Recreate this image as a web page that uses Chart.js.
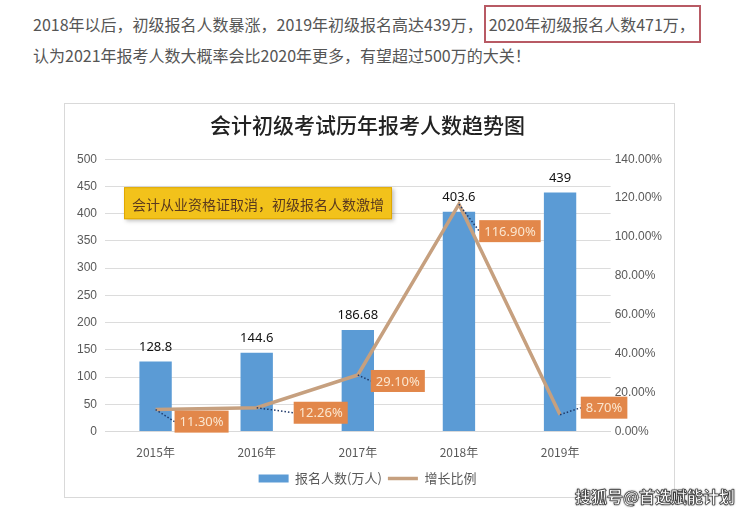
<!DOCTYPE html>
<html>
<head>
<meta charset="utf-8">
<script src="https://cdn.jsdelivr.net/npm/chart.js@4"></script>
<style>
  body { margin: 0; background: #fff; width: 740px; height: 516px; overflow: hidden; position: relative;
         font-family: "Noto Sans CJK SC", "Noto Sans", sans-serif; }
  .intro { position: absolute; left: 33px; color: #555; font-size: 16px; white-space: nowrap; }
  .l1 { top: 12px; }
  .l2 { top: 43px; }
  .boxed { border: 2px solid #b85a64; padding: 5px 4px 5px 3px; margin-left: 1px; }
  #frame { position: absolute; left: 64px; top: 103px; width: 611px; height: 395px;
           border: 1px solid #d9d9d9; box-sizing: border-box; }
  #wrap { position: absolute; left: 64px; top: 104px; width: 612px; height: 393px; }
  .mark { position: absolute; left: 575px; top: 484px; font-size: 16px; font-weight: 700; color: #fff;
          -webkit-text-stroke: 0.6px #333; text-shadow: 0 0 2px #333, 0 0 1px #000; }
</style>
</head>
<body>
<div class="intro l1">2018年以后，初级报名人数暴涨，2019年初级报名高达439万，<span class="boxed">2020年初级报名人数471万，</span></div>
<div class="intro l2">认为2021年报考人数大概率会比2020年更多，有望超过500万的大关！</div>
<div id="frame"></div>
<div id="wrap"><canvas id="trendChart"></canvas></div>
<div class="mark">搜狐号@首选赋能计划</div>
<script>
'use strict';

const years = ['2015年', '2016年', '2017年', '2018年', '2019年'];
const applicants = [128.8, 144.6, 186.68, 403.6, 439];
const growthRate = [11.30, 12.26, 29.10, 116.90, 8.70];
const growthLabels = ['11.30%', '12.26%', '29.10%', '116.90%', '8.70%'];
const noteText = '会计从业资格证取消，初级报名人数激增';

const BAR_BLUE = '#5b9bd5';
const LINE_TAN = '#c6a07f';
const TAG_ORANGE = '#e2874a';

// where the orange % tags sit relative to their point (dx, dy of tag centre)
const tagShift = [[46, 12], [64, 5], [40, 6], [51, 27], [44, -7]];

const labelPlugin = {
  id: 'labelPlugin',
  afterDatasetsDraw(chart) {
    const ctx = chart.ctx;
    const area = chart.chartArea;

    // yellow note box
    ctx.save();
    const nx = area.left + 19, ny = area.top + 28, nw = 268, nh = 32;
    ctx.shadowColor = 'rgba(0,0,0,0.25)';
    ctx.shadowBlur = 4;
    ctx.shadowOffsetX = 2;
    ctx.shadowOffsetY = 2;
    ctx.fillStyle = '#f2c21b';
    ctx.fillRect(nx, ny, nw, nh);
    ctx.shadowColor = 'transparent';
    ctx.strokeStyle = '#e0a800';
    ctx.lineWidth = 1;
    ctx.strokeRect(nx + 0.5, ny + 0.5, nw - 1, nh - 1);
    ctx.fillStyle = '#5a3a1e';
    ctx.font = '14px "Noto Sans CJK SC"';
    ctx.textAlign = 'center';
    ctx.textBaseline = 'middle';
    ctx.fillText(noteText, nx + nw / 2, ny + nh / 2 + 1);
    ctx.restore();

    // bar values
    const barMeta = chart.getDatasetMeta(0);
    ctx.save();
    ctx.fillStyle = '#111';
    ctx.font = '13px "Noto Sans", sans-serif';
    ctx.textAlign = 'center';
    ctx.textBaseline = 'bottom';
    barMeta.data.forEach((bar, i) => {
      ctx.fillText(String(applicants[i]), bar.x, bar.y - 8);
    });
    ctx.restore();

    // growth tags
    const lineMeta = chart.getDatasetMeta(1);
    ctx.save();
    ctx.font = '13px "Noto Sans", sans-serif';
    ctx.textBaseline = 'middle';
    ctx.textAlign = 'center';
    lineMeta.data.forEach((pt, i) => {
      const txt = growthLabels[i];
      const w = ctx.measureText(txt).width + 10;
      const h = 22;
      const cx = pt.x + tagShift[i][0];
      const cy = pt.y + tagShift[i][1];
      // dotted leader
      ctx.strokeStyle = '#1f3a6b';
      ctx.lineWidth = 1.5;
      ctx.setLineDash([1.5, 2]);
      ctx.beginPath();
      ctx.moveTo(pt.x, pt.y);
      ctx.lineTo(cx - w / 2, cy);
      ctx.stroke();
      ctx.setLineDash([]);
      ctx.fillStyle = TAG_ORANGE;
      ctx.fillRect(cx - w / 2, cy - h / 2, w, h);
      ctx.fillStyle = '#fbe6cf';
      ctx.fillText(txt, cx, cy + 1);
    });
    ctx.restore();
  }
};

const ctx = document.getElementById('trendChart');
const chart = new Chart(ctx, {
  data: {
    labels: years,
    datasets: [{
      type: 'bar',
      label: '报名人数(万人)',
      data: applicants,
      backgroundColor: BAR_BLUE,
      borderWidth: 0,
      yAxisID: 'y',
      pointStyle: 'rect',
      barPercentage: 0.64,
      categoryPercentage: 0.5,
      order: 2,
    }, {
      type: 'line',
      label: '增长比例',
      data: growthRate,
      borderColor: LINE_TAN,
      backgroundColor: LINE_TAN,
      borderWidth: 3.5,
      pointRadius: 0,
      pointStyle: 'line',
      tension: 0,
      yAxisID: 'y1',
      order: 1,
    }],
  },
  options: {
    responsive: true,
    maintainAspectRatio: false,
    animation: false,
    layout: { padding: { top: 0, bottom: 2, left: 5, right: 10 } },
    plugins: {
      title: {
        display: true,
        text: '会计初级考试历年报考人数趋势图',
        color: '#222',
        font: { family: '"Noto Sans CJK SC"', size: 21, weight: '500' },
        padding: { top: 8, bottom: 22 },
      },
      legend: {
        position: 'bottom',
        labels: {
          usePointStyle: true,
          pointStyleWidth: 30,
          boxHeight: 8,
          color: '#595959',
          font: { family: '"Noto Sans CJK SC"', size: 13 },
          padding: 6,
          sort: (a, b) => a.datasetIndex - b.datasetIndex,
        },
      },
      tooltip: { enabled: false },
    },
    scales: {
      x: {
        grid: { display: false },
        border: { color: '#d9d9d9' },
        ticks: { color: '#595959', font: { family: '"Noto Sans CJK SC"', size: 12 }, padding: 6 },
      },
      y: {
        position: 'left',
        min: 0,
        max: 500,
        ticks: { stepSize: 50, color: '#595959', font: { size: 12 }, padding: 8 },
        grid: { color: '#dcdcdc', drawTicks: false },
        border: { display: false },
      },
      y1: {
        position: 'right',
        min: 0,
        max: 140,
        ticks: {
          stepSize: 20,
          color: '#595959',
          font: { size: 12 },
          padding: 4,
          callback: (v) => v.toFixed(2) + '%',
        },
        grid: { display: false, drawTicks: false },
        border: { display: false },
      },
    },
  },
  plugins: [labelPlugin],
});
</script>
</body>
</html>
